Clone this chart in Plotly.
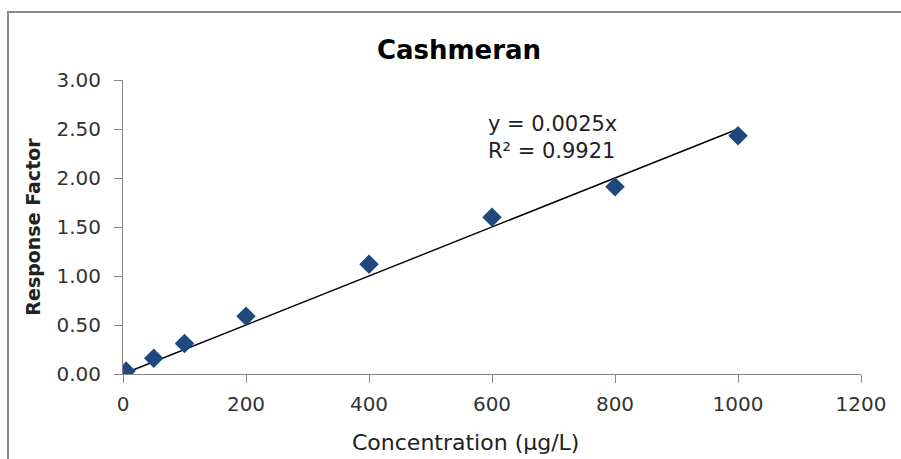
import plotly.graph_objects as go

# Calibration data for Cashmeran
concentration = [5, 50, 100, 200, 400, 600, 800, 1000]       # µg/L
response_factor = [0.03, 0.16, 0.31, 0.59, 1.12, 1.60, 1.91, 2.43]

# Linear fit through the origin
slope = 0.0025
r_squared = 0.9921

x_ticks = [0, 200, 400, 600, 800, 1000, 1200]
y_ticks = [0.0, 0.5, 1.0, 1.5, 2.0, 2.5, 3.0]

FONT = "DejaVu Sans"
AXIS_GREY = "#868686"
MARKER_BLUE = "#1F497D"

fit_x = [concentration[0], concentration[-1]]
fit_y = [slope * v for v in fit_x]

fig = go.Figure()

fig.add_trace(go.Scatter(
    x=fit_x, y=fit_y, mode="lines",
    line=dict(color="black", width=1.4),
    showlegend=False, hoverinfo="skip",
))

fig.add_trace(go.Scatter(
    x=concentration, y=response_factor, mode="markers",
    marker=dict(symbol="diamond", size=15, color=MARKER_BLUE,
                line=dict(width=0)),
    showlegend=False,
))

W, H = 901, 459
ML, MR, MT, MB = 123, 40, 80, 85
pw, ph = W - ML - MR, H - MT - MB

fig.update_layout(
    width=W, height=H,
    margin=dict(l=ML, r=MR, t=MT, b=MB),
    paper_bgcolor="white", plot_bgcolor="white",
    font=dict(family=FONT, color="#222222"),
    title=dict(text="<b>Cashmeran</b>", x=459 / W, xanchor="center",
               y=1 - 50 / H, yanchor="middle",
               font=dict(family=FONT, size=26, color="black")),
    xaxis=dict(
        range=[0, 1200], tickvals=x_ticks,
        ticktext=[str(v) for v in x_ticks],
        showgrid=False, zeroline=False,
        showline=True, linecolor=AXIS_GREY, linewidth=1,
        ticks="outside", ticklen=8, tickcolor=AXIS_GREY, tickwidth=1,
        ticklabelstandoff=4,
        tickfont=dict(family=FONT, size=20, color="#333333"),
    ),
    yaxis=dict(
        range=[0, 3], tickvals=y_ticks,
        ticktext=[f"{v:.2f}" for v in y_ticks],
        showgrid=False, zeroline=False,
        showline=True, linecolor=AXIS_GREY, linewidth=1,
        ticks="outside", ticklen=8, tickcolor=AXIS_GREY, tickwidth=1,
        ticklabelstandoff=9,
        tickfont=dict(family=FONT, size=20, color="#333333"),
        title=dict(text="<b>Response Factor</b>", standoff=10,
                   font=dict(family=FONT, size=19, color="#222222")),
    ),
    shapes=[dict(
        type="rect", xref="paper", yref="paper",
        x0=(8 - ML) / pw, x1=1.2, y0=-0.5, y1=(H - MB - 12) / ph,
        line=dict(color="#8a8a8a", width=2), fillcolor="rgba(0,0,0,0)",
        layer="above",
    )],
    annotations=[
        dict(
            text=f"y = {slope}x<br>R² = {r_squared}",
            xref="paper", yref="paper",
            x=(486 - ML) / pw, xanchor="left",
            y=(H - MB - 137) / ph, yanchor="middle",
            align="left", showarrow=False,
            font=dict(family=FONT, size=21, color="#222222"),
        ),
        # x-axis title
        dict(
            text="Concentration (µg/L)",
            xref="paper", yref="paper",
            x=(465 - ML) / pw, xanchor="center",
            y=(H - MB - 442) / ph, yanchor="middle",
            showarrow=False,
            font=dict(family=FONT, size=22, color="#222222"),
        ),
    ],
)

fig.write_html("out.html")
